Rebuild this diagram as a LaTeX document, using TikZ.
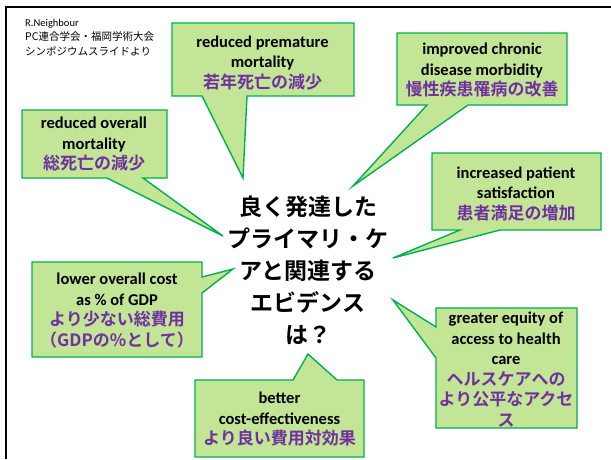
\documentclass[tikz,border=0pt]{standalone}
\usepackage{fontspec}
\setmainfont{Carlito}
\newfontfamily\lat{Carlito}
\newfontfamily\cjk{Noto Sans CJK JP}[BoldFont={Noto Sans CJK JP Bold}]
\definecolor{jpurple}{RGB}{112,48,160}
\definecolor{cfill}{RGB}{194,229,150}
\definecolor{cline}{RGB}{0,176,80}
\newcommand\jptx[1]{{\cjk\bfseries\fontsize{17}{20.5}\selectfont\color{jpurple}#1}}
\begin{document}
\begin{tikzpicture}[x=1pt,y=-1pt,
  callout/.style={fill=cfill,draw=cline,line width=1.4pt,line join=miter},
  entext/.style={font=\lat\bfseries\fontsize{16.5}{20.5}\selectfont,align=center,inner sep=0pt},
  frame/.style={line width=2pt,draw=black}]
\useasboundingbox (0,0) rectangle (611,459);
% frame
\draw[frame] (6,459) -- (6,6.5) -- (611,6.5);
% header
\node[anchor=north west,align=left,inner sep=0pt,font=\fontsize{10.5}{14.5}\selectfont] (hdr) at (25,19)
  {{\lat R.Neighbour}\\{\cjk\fontsize{10.5}{14.5}\selectfont PC連合学会・福岡学術大会}\\{\cjk\fontsize{10.5}{14.5}\selectfont シンポジウムスライドより}};
% callouts
\draw[callout] (172,23) -- (354,23) -- (354,96) -- (247,96) -- (243,178) -- (202,96) -- (172,96) -- cycle;
\draw[callout] (397,33) -- (567,33) -- (567,105) -- (468,105) -- (353,186) -- (427,105) -- (397,105) -- cycle;
\draw[callout] (22,110) -- (167,110) -- (167,178) -- (143,178) -- (223,236) -- (107,178) -- (22,178) -- cycle;
\draw[callout] (432,153) -- (601,153) -- (601,230) -- (500,230) -- (393,258) -- (460,230) -- (432,230) -- cycle;
\draw[callout] (32,262) -- (202,262) -- (202,277) -- (233,269) -- (202,293) -- (202,357) -- (32,357) -- cycle;
\draw[callout] (436,308) -- (577,308) -- (577,428) -- (436,428) -- (436,358) -- (393,300) -- (436,327) -- cycle;
\draw[callout] (195,380) -- (293,380) -- (308,354) -- (337,380) -- (364,380) -- (364,457) -- (195,457) -- cycle;
% texts
\node[entext] (t1) at (262.5,63) {reduced premature\\mortality\\\jptx{若年死亡の減少}};
\node[entext] (t2) at (482,70.5) {improved chronic\\disease morbidity\\\jptx{慢性疾患罹病の改善}};
\node[entext] (t3) at (94,144.5) {reduced overall\\mortality\\\jptx{総死亡の減少}};
\node[entext] (t4) at (516,193.5) {increased patient\\satisfaction\\\jptx{患者満足の増加}};
\node[entext] (t5) at (117,310.5) {lower overall cost\\as \% of GDP\\\jptx{より少ない総費用}\\\jptx{（GDPの\%として）}};
\node[entext] (t6) at (506,369.5) {greater equity of\\access to health\\care\\\jptx{ヘルスケアへの}\\\jptx{より公平なアクセ}\\\jptx{ス}};
\node[entext] (t7) at (279.5,419.5) {better\\cost-effectiveness\\\jptx{より良い費用対効果}};
% central question
\node[align=center,inner sep=0pt,font=\cjk\bfseries\fontsize{23}{32}\selectfont] (q) at (308,270)
  {良く発達した\\プライマリ・ケ\\アと関連する\\エビデンス\\は？};
\end{tikzpicture}
\end{document}
